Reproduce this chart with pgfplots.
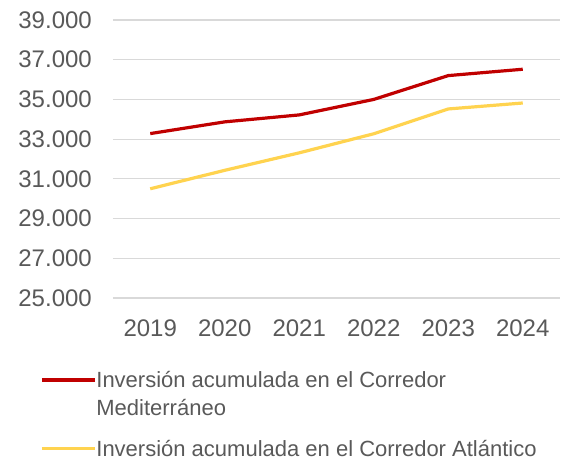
\documentclass[border=0pt]{standalone}
\usepackage{fontspec}
\setmainfont{Liberation Sans}
\usepackage{pgfplots}
\pgfplotsset{compat=1.18}

\definecolor{medred}{HTML}{C00000}
\definecolor{atlyellow}{HTML}{FFD34F}
\definecolor{gridgray}{HTML}{D9D9D9}
\definecolor{labelgray}{HTML}{595959}

% Cumulative investment per corridor
\pgfplotstableread{
year  value
2019  33280
2020  33870
2021  34220
2022  35000
2023  36200
2024  36520
}\mediterraneo
\pgfplotstableread{
year  value
2019  30500
2020  31430
2021  32310
2022  33270
2023  34520
2024  34820
}\atlantico

\begin{document}
\begin{tikzpicture}
\begin{axis}[
  at={(0pt,0pt)}, anchor=south west,
  scale only axis,
  width=447pt, height=278pt,
  xmin=2018.5, xmax=2024.5,
  ymin=25000, ymax=39000,
  xtick={2019,2020,...,2024},
  ytick={25000,27000,...,39000},
  scaled y ticks=false,
  axis line style={draw=none},
  major tick length=0pt,
  ymajorgrids,
  grid style={gridgray, line width=1.2pt},
  tick label style={font=\fontsize{24}{28}\selectfont, text=labelgray},
  /pgf/number format/assume math mode=true,
  xticklabel style={/pgf/number format/1000 sep={}, inner sep=0pt, anchor=center, yshift=-30pt},
  yticklabel style={/pgf/number format/1000 sep={.}, inner sep=0pt, anchor=east, xshift=-21pt},
  legend style={
    at={(-73pt,-73pt)}, anchor=north west,
    draw=none, fill=none, inner sep=0pt,
    font=\fontsize{22}{28}\selectfont,
    text=labelgray,
    row sep=51pt,
    nodes={inner sep=0pt},
  },
  legend cell align=left,
  legend image code/.code={\draw[#1] (0pt,0pt) -- (53pt,0pt);},
  clip=false,
]
\addplot[medred, line width=3.2pt] table[x=year, y=value] {\mediterraneo};
\addlegendentry{\vtop{\hbox{Inversión acumulada en el Corredor}\hbox{Mediterráneo}}}
\addplot[atlyellow, line width=3.2pt] table[x=year, y=value] {\atlantico};
\addlegendentry{Inversión acumulada en el Corredor Atlántico}
\end{axis}
\path[use as bounding box] (-113pt,-164pt) rectangle (450pt,298pt);
\end{tikzpicture}
\end{document}
